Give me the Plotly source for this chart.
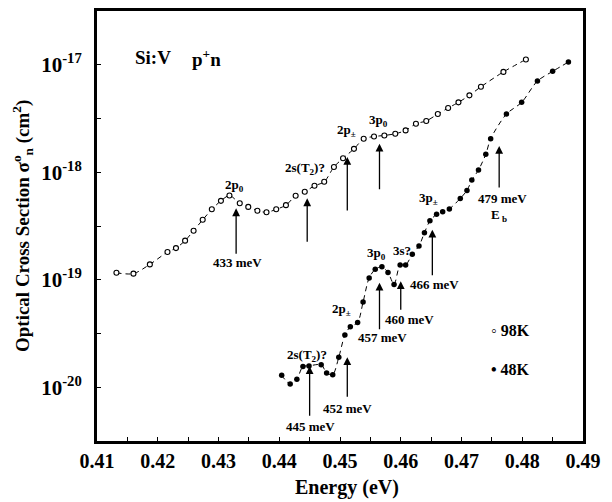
import numpy as np
import plotly.graph_objects as go

# Photon energy (eV) and optical cross section (cm^2) at 98 K (open circles)
energy_98k = [0.4132, 0.4160, 0.4187, 0.4216, 0.4230, 0.4245, 0.4259, 0.4274, 0.4289, 0.4304,
              0.4318, 0.4335, 0.4349, 0.4364, 0.4379, 0.4395, 0.4411, 0.4427, 0.4442, 0.4458,
              0.4474, 0.4490, 0.4505, 0.4523, 0.4539, 0.4556, 0.4573, 0.4591, 0.4608, 0.4625,
              0.4642, 0.4661, 0.4678, 0.4695, 0.4713, 0.4732, 0.4769, 0.4806]
sigma_98k = [1.16e-19, 1.14e-19, 1.39e-19, 1.81e-19, 1.97e-19, 2.31e-19, 2.86e-19, 3.61e-19, 4.52e-19, 5.42e-19,
             6.08e-19, 5.14e-19, 4.76e-19, 4.39e-19, 4.24e-19, 4.52e-19, 4.94e-19, 6.05e-19, 6.59e-19, 7.48e-19,
             8.15e-19, 1.12e-18, 1.35e-18, 1.65e-18, 2.05e-18, 2.15e-18, 2.20e-18, 2.28e-18, 2.45e-18, 2.83e-18,
             3.00e-18, 3.48e-18, 3.96e-18, 4.47e-18, 5.19e-18, 6.24e-18, 8.58e-18, 1.12e-17]

# Same quantities at 48 K (filled circles)
energy_48k = [0.4404, 0.4418, 0.4429, 0.4439, 0.4449, 0.4469, 0.4478, 0.4488, 0.4498, 0.4508,
              0.4517, 0.4529, 0.4538, 0.4548, 0.4558, 0.4569, 0.4579, 0.4589, 0.4599, 0.4608,
              0.4619, 0.4630, 0.4639, 0.4648, 0.4659, 0.4669, 0.4680, 0.4698, 0.4709, 0.4717,
              0.4728, 0.4740, 0.4748, 0.4774, 0.4799, 0.4825, 0.4850, 0.4876]
sigma_48k = [1.29e-20, 1.07e-20, 1.19e-20, 1.56e-20, 1.58e-20, 1.62e-20, 1.36e-20, 1.31e-20, 1.90e-20, 3.06e-20,
             3.65e-20, 4.00e-20, 6.21e-20, 1.04e-19, 1.25e-19, 1.32e-19, 1.17e-19, 9.05e-20, 1.37e-19, 1.37e-19,
             1.73e-19, 2.06e-19, 2.74e-19, 3.53e-19, 4.06e-19, 4.30e-19, 4.56e-19, 5.71e-19, 6.77e-19, 8.45e-19,
             1.05e-18, 1.47e-18, 2.05e-18, 3.48e-18, 4.47e-18, 7.06e-18, 8.68e-18, 1.06e-17]

# Axis ticks: labelled every 0.01 eV / every decade, plain marks in between
x_tickvals = [0.41, 0.415, 0.42, 0.425, 0.43, 0.435, 0.44, 0.445, 0.45, 0.455,
              0.46, 0.465, 0.47, 0.475, 0.48, 0.485, 0.49]
x_ticktext = ["0.41", "", "0.42", "", "0.43", "", "0.44", "", "0.45", "",
              "0.46", "", "0.47", "", "0.48", "", "0.49"]
y_tick_exponents = [-20.5, -20, -19.5, -19, -18.5, -18, -17.5, -17, -16.5]
y_ticktext = ["", "10<sup>-20</sup>", "", "10<sup>-19</sup>", "", "10<sup>-18</sup>", "", "10<sup>-17</sup>", ""]

# Transition labels: (text, energy eV, log10 sigma)
state_labels = [
    ("2p<sub>0</sub>", 0.4327, -18.12),
    ("2s(T<sub>2</sub>)?", 0.4442, -17.966),
    ("2p<sub>±</sub>", 0.4510, -17.611),
    ("3p<sub>0</sub>", 0.4564, -17.519),
    ("2s(T<sub>2</sub>)?", 0.4445, -19.705),
    ("2p<sub>±</sub>", 0.4503, -19.278),
    ("3p<sub>0</sub>", 0.4560, -18.756),
    ("3s?", 0.4602, -18.726),
    ("3p<sub>±</sub>", 0.4645, -18.243),
    ("433 meV", 0.4332, -18.844),
    ("445 meV", 0.4451, -20.368),
    ("452 meV", 0.4513, -20.195),
    ("457 meV", 0.4570, -19.537),
    ("460 meV", 0.4614, -19.367),
    ("466 meV", 0.4656, -19.043),
    ("479 meV", 0.4768, -18.243),
    ("E<sub> b</sub>", 0.4761, -18.406),
]

# Upward arrows: (energy eV, log10 sigma at the head, shaft length px)
arrows = [
    (0.4329, -18.336, 47),
    (0.4446, -18.243, 45),
    (0.4512, -17.858, 55),
    (0.4565, -17.735, 47),
    (0.4450, -19.804, 51),
    (0.4512, -19.721, 41),
    (0.4565, -19.028, 48),
    (0.4600, -19.013, 30),
    (0.4652, -18.535, 47),
    (0.4762, -17.756, 43),
]

SERIF = "Liberation Serif, Times New Roman, serif"

fig = go.Figure()

fig.add_trace(go.Scatter(
    x=energy_98k, y=sigma_98k, mode="lines+markers", name="98K",
    line=dict(color="black", width=1, dash="5px,4px", shape="spline", smoothing=0.8),
    marker=dict(symbol="circle", size=5, color="white", line=dict(color="black", width=1.1)),
    showlegend=False,
))
fig.add_trace(go.Scatter(
    x=energy_48k, y=sigma_48k, mode="lines+markers", name="48K",
    line=dict(color="black", width=1, dash="5px,4px", shape="spline", smoothing=0.8),
    marker=dict(symbol="circle", size=5.5, color="black"),
    showlegend=False,
))

annotations = []
for text, ex, ly in state_labels:
    annotations.append(dict(x=ex, y=ly, xref="x", yref="y", text=f"<b>{text}</b>",
                            xanchor="center", yanchor="middle",
                            showarrow=False, font=dict(family=SERIF, size=13, color="black")))
for ex, ly, length in arrows:
    annotations.append(dict(x=ex, y=ly, xref="x", yref="y", text="", showarrow=True,
                            ax=0, ay=length, arrowhead=2, arrowsize=1.2, arrowwidth=1.3,
                            arrowcolor="black"))

# Sample description
annotations.append(dict(x=0.41593, y=-16.934, xref="x", yref="y", xanchor="left", yanchor="middle",
                        text="<b>Si:V</b>", showarrow=False,
                        font=dict(family=SERIF, size=19, color="black")))
annotations.append(dict(x=0.42531, y=-16.934, xref="x", yref="y", xanchor="left", yanchor="middle",
                        text="<b>p<sup>+</sup>n</b>", showarrow=False,
                        font=dict(family=SERIF, size=19, color="black")))

# Temperature key
annotations.append(dict(x=0.8066, y=0.2564, xref="paper", yref="paper", xanchor="left", yanchor="middle",
                        text="<b>◦ 98K</b>", showarrow=False,
                        font=dict(family=SERIF, size=16, color="black")))
annotations.append(dict(x=0.8066, y=0.1656, xref="paper", yref="paper", xanchor="left", yanchor="middle",
                        text="<b>• 48K</b>", showarrow=False,
                        font=dict(family=SERIF, size=16, color="black")))

# Axis titles
annotations.append(dict(x=0.5154, y=-0.1085, xref="paper", yref="paper",
                        xanchor="center", yanchor="middle",
                        text="<b>Energy (eV)</b>", showarrow=False,
                        font=dict(family=SERIF, size=20, color="black")))
annotations.append(dict(x=-0.1543, y=0.5, xref="paper", yref="paper", textangle=-90,
                        xanchor="center", yanchor="middle",
                        text="<b>Optical Cross Section σ<sup>o</sup><sub>n</sub> (cm<sup>2</sup>)</b>",
                        showarrow=False, font=dict(family=SERIF, size=19, color="black")))

fig.update_layout(
    width=612, height=502,
    margin=dict(l=97, r=29, t=8, b=61),
    paper_bgcolor="white", plot_bgcolor="white",
    annotations=annotations,
    showlegend=False,
)
fig.update_xaxes(
    range=[0.41, 0.49], tickvals=x_tickvals, ticktext=x_ticktext,
    ticks="inside", ticklen=4, tickwidth=1, tickcolor="black",
    showline=True, linewidth=3, linecolor="black", mirror=True,
    showgrid=False, zeroline=False,
    tickfont=dict(family=SERIF, size=20, color="black", weight="bold"),
)
fig.update_yaxes(
    type="log", range=[-20.5, -16.5],
    tickvals=[10.0 ** e for e in y_tick_exponents], ticktext=y_ticktext,
    ticks="inside", ticklen=4, tickwidth=1, tickcolor="black",
    showline=True, linewidth=3, linecolor="black", mirror=True,
    showgrid=False, zeroline=False, ticklabelstandoff=8,
    tickfont=dict(family=SERIF, size=21, color="black", weight="bold"),
)

fig.write_html("out.html")
